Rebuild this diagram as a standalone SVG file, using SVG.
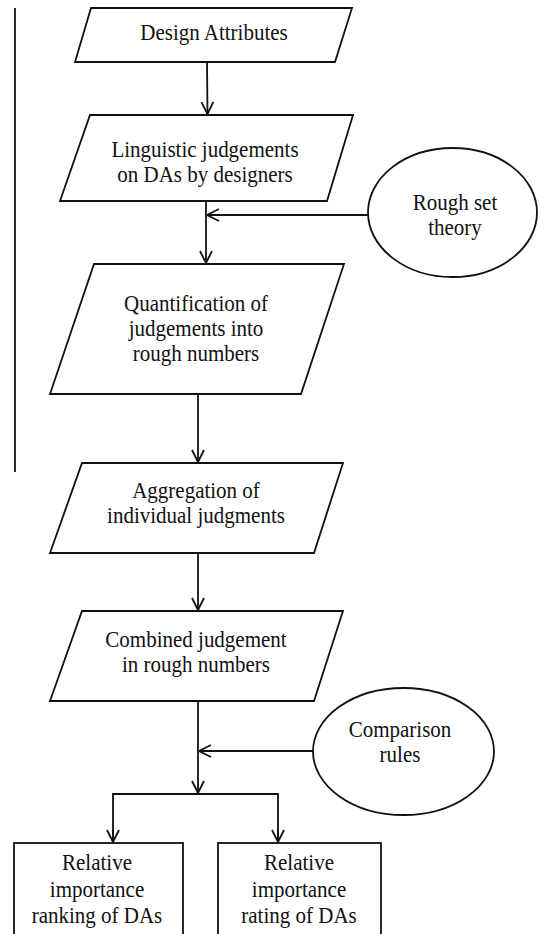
<svg xmlns="http://www.w3.org/2000/svg" width="545" height="934" viewBox="0 0 545 934">
<defs>
<style>
.s{fill:#fff;stroke:#111;stroke-width:1.8}
.c{fill:none;stroke:#111;stroke-width:1.8}
.t{font-family:"Liberation Serif","Times New Roman",serif;font-size:21px;fill:#111;text-anchor:middle}
</style>
<marker id="ah" markerWidth="16" markerHeight="16" viewBox="-13 -8 16 16" refX="0" refY="0" orient="auto" markerUnits="userSpaceOnUse">
<path d="M-12,-6 L0,0 L-12,6" fill="none" stroke="#111" stroke-width="1.8"/>
</marker>
</defs>
<rect width="545" height="934" fill="#fff"/>
<line x1="15" y1="8" x2="15" y2="472" stroke="#111" stroke-width="1.8"/>
<g id="connectors">
<line class="c" x1="207" y1="62" x2="207.5" y2="114" marker-end="url(#ah)"/>
<line class="c" x1="206" y1="201" x2="206" y2="263" marker-end="url(#ah)"/>
<line class="c" x1="368" y1="215" x2="207" y2="215" marker-end="url(#ah)"/>
<line class="c" x1="198" y1="394" x2="198" y2="462" marker-end="url(#ah)"/>
<line class="c" x1="198" y1="553" x2="198" y2="610" marker-end="url(#ah)"/>
<line class="c" x1="198" y1="701" x2="198" y2="793" marker-end="url(#ah)"/>
<line class="c" x1="313" y1="751" x2="199" y2="751" marker-end="url(#ah)"/>
<polyline class="c" points="113,842 113,794 278,794 278,842"/>
<line class="c" x1="113" y1="830" x2="113" y2="842" marker-end="url(#ah)"/>
<line class="c" x1="278" y1="830" x2="278" y2="842" marker-end="url(#ah)"/>
</g>
<g id="n1">
<polygon class="s" points="91,8 352,8 335,62 75,62"/>
<text class="t" transform="translate(214 40) scale(1 1.05)">Design Attributes</text>
</g>
<g id="n2">
<polygon class="s" points="90,115 353,115 327,201 60,201"/>
<text class="t" transform="translate(205 156.5) scale(1 1.05)">Linguistic judgements</text>
<text class="t" transform="translate(205 181.5) scale(1 1.05)">on DAs by designers</text>
</g>
<g id="n3">
<ellipse class="s" cx="452.5" cy="212.5" rx="84.5" ry="64.5"/>
<text class="t" transform="translate(455 210) scale(1 1.05)">Rough set</text>
<text class="t" transform="translate(455 235) scale(1 1.05)">theory</text>
</g>
<g id="n4">
<polygon class="s" points="94,264 344,264 301,394 50,394"/>
<text class="t" transform="translate(196 311) scale(1 1.05)">Quantification of</text>
<text class="t" transform="translate(196 336) scale(1 1.05)">judgements into</text>
<text class="t" transform="translate(196 361) scale(1 1.05)">rough numbers</text>
</g>
<g id="n5">
<polygon class="s" points="82,463 343,463 314,553 50,553"/>
<text class="t" transform="translate(196 498) scale(1 1.05)">Aggregation of</text>
<text class="t" transform="translate(196 523) scale(1 1.05)">individual judgments</text>
</g>
<g id="n6">
<polygon class="s" points="82,611 343,611 314,701 50,701"/>
<text class="t" transform="translate(196 647) scale(1 1.05)">Combined judgement</text>
<text class="t" transform="translate(196 672) scale(1 1.05)">in rough numbers</text>
</g>
<g id="n7">
<ellipse class="s" cx="403.5" cy="751.5" rx="90.5" ry="63.5"/>
<text class="t" transform="translate(400 737) scale(1 1.05)">Comparison</text>
<text class="t" transform="translate(400 762) scale(1 1.05)">rules</text>
</g>
<g id="n8">
<rect class="s" x="14" y="843" width="169" height="100"/>
<text class="t" transform="translate(97 870) scale(1 1.05)">Relative</text>
<text class="t" transform="translate(97 897) scale(1 1.05)">importance</text>
<text class="t" transform="translate(97 923) scale(1 1.05)">ranking of DAs</text>
</g>
<g id="n9">
<rect class="s" x="218" y="843" width="163" height="100"/>
<text class="t" transform="translate(299 870) scale(1 1.05)">Relative</text>
<text class="t" transform="translate(299 897) scale(1 1.05)">importance</text>
<text class="t" transform="translate(299 923) scale(1 1.05)">rating of DAs</text>
</g>
</svg>
